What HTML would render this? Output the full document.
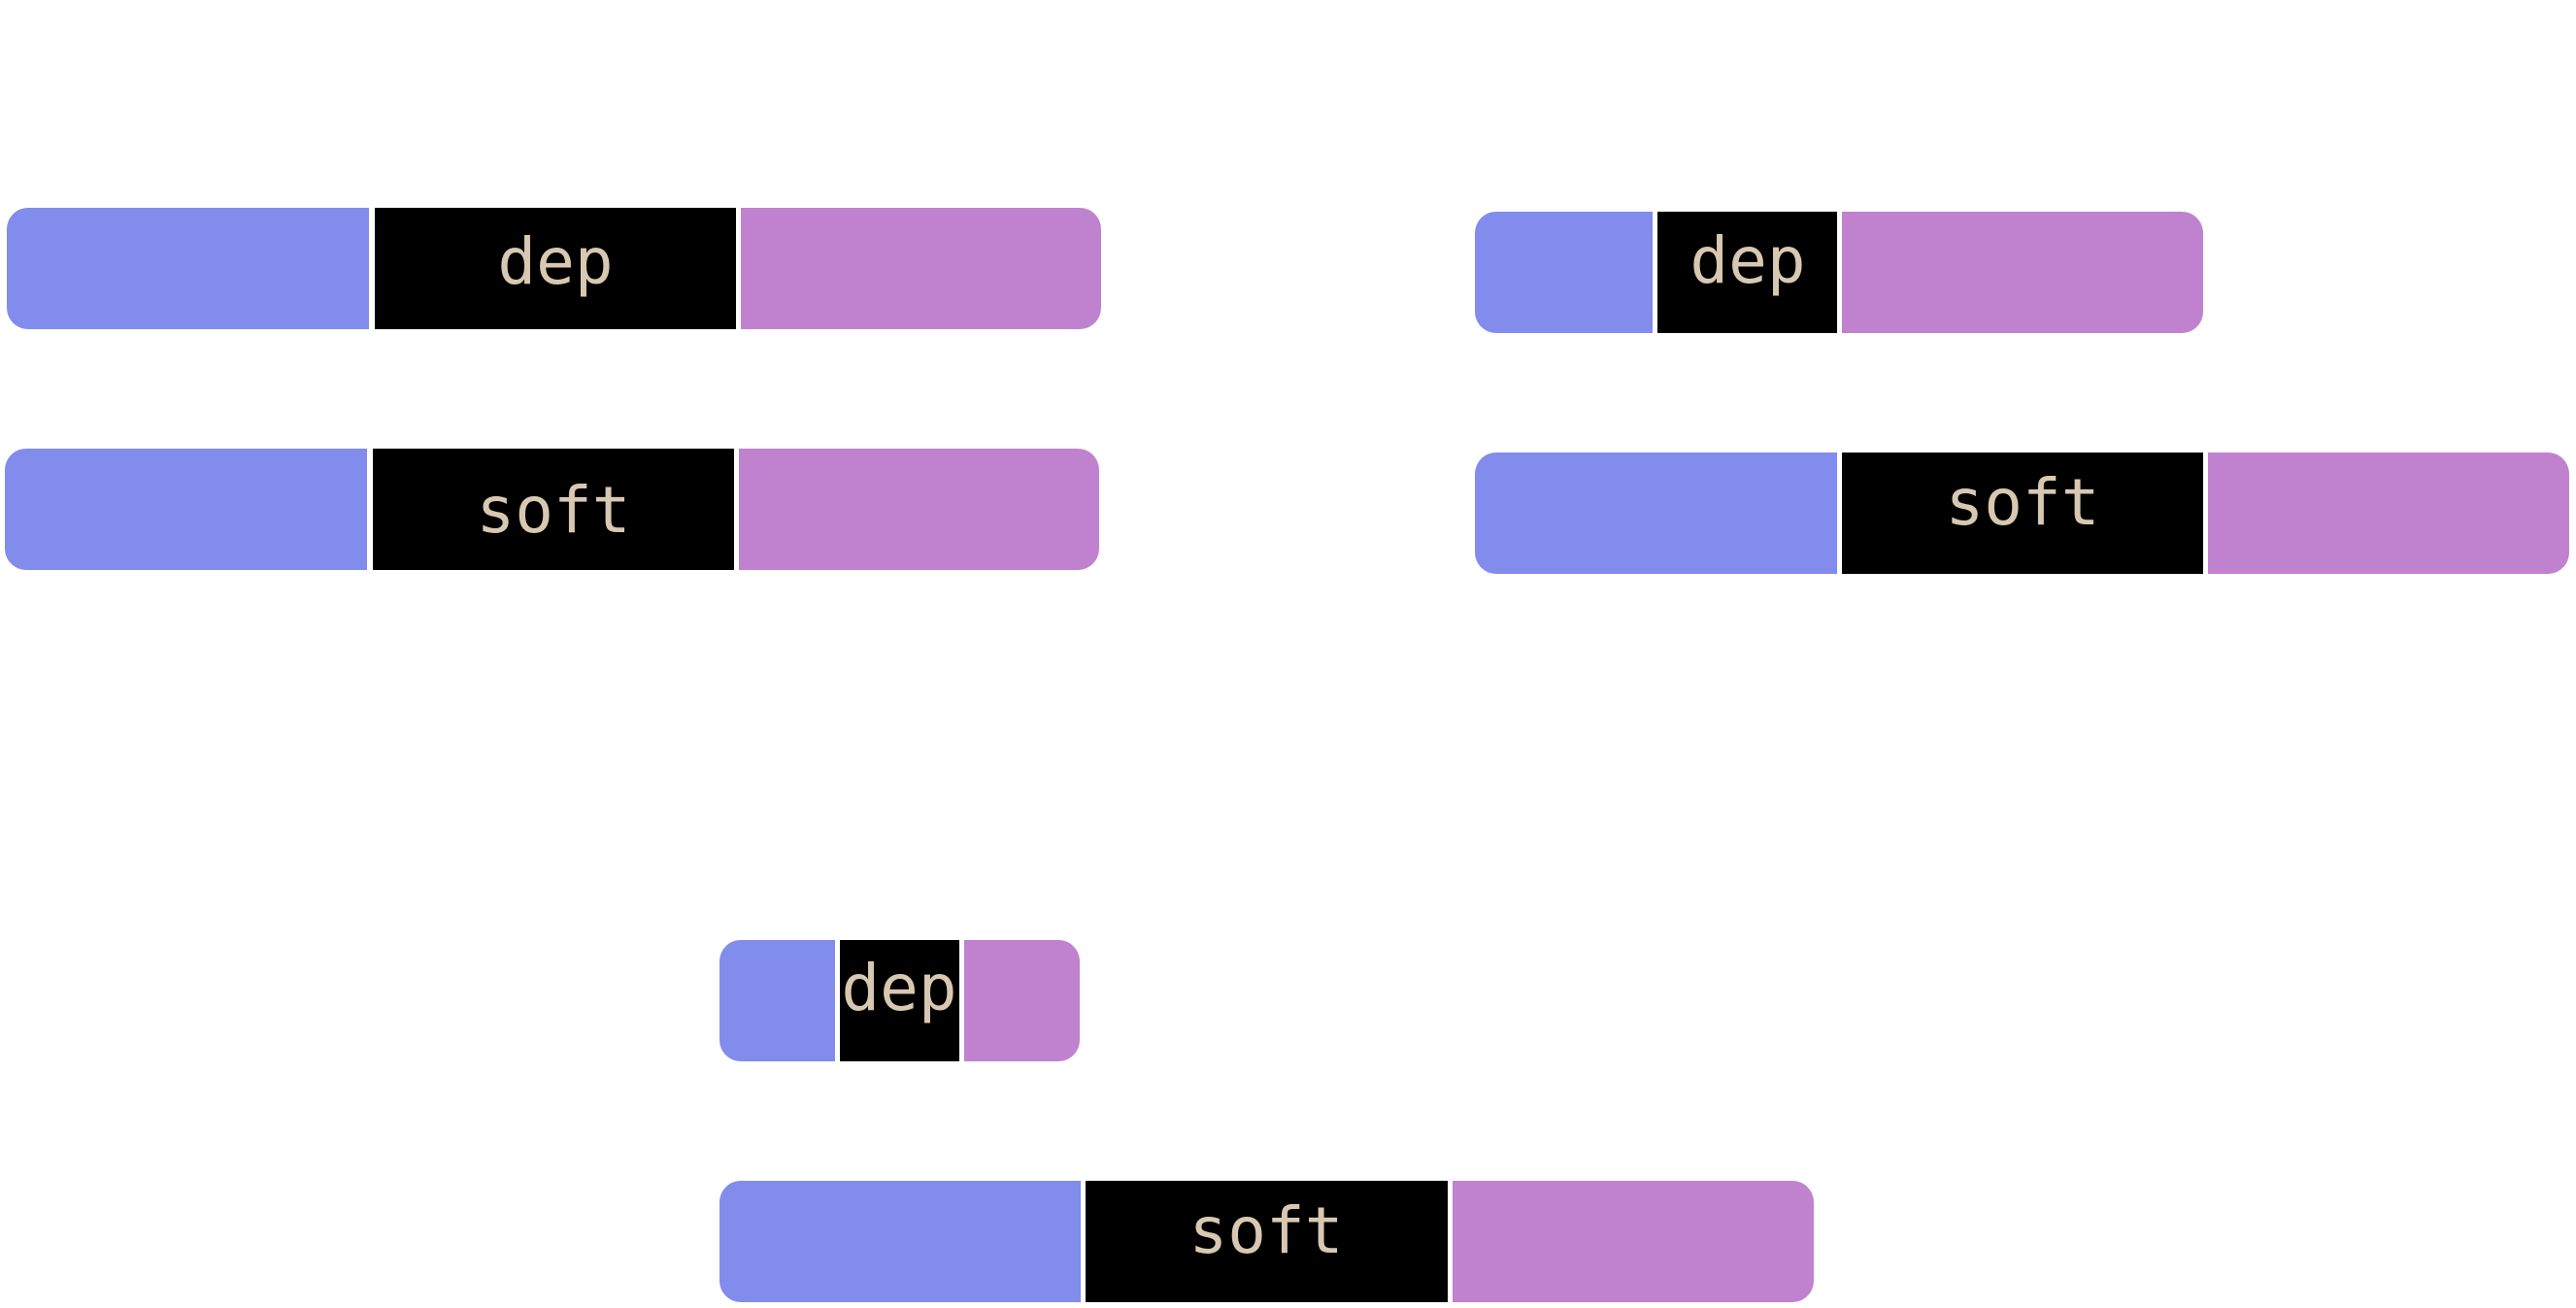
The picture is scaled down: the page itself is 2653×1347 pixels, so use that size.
<!DOCTYPE html>
<html><head><meta charset="utf-8"><style>
html,body{margin:0;padding:0;background:#fff;width:2653px;height:1347px;overflow:hidden}
</style></head><body>
<svg width="2653" height="1347" xmlns="http://www.w3.org/2000/svg" font-family="'DejaVu Sans Mono','Liberation Mono',monospace" font-size="66" fill="#d8c8b2">
<defs>
<clipPath id="c1"><rect x="7" y="214" width="1127" height="125" rx="22"/></clipPath>
<clipPath id="c2"><rect x="5" y="462" width="1127" height="125" rx="22"/></clipPath>
<clipPath id="c3"><rect x="1519" y="218" width="750" height="125" rx="22"/></clipPath>
<clipPath id="c4"><rect x="1519" y="466" width="1127" height="125" rx="22"/></clipPath>
<clipPath id="c5"><rect x="741" y="968" width="371" height="125" rx="22"/></clipPath>
<clipPath id="c6"><rect x="741" y="1216" width="1127" height="125" rx="22"/></clipPath>
</defs>
<g clip-path="url(#c1)">
<rect x="7" y="214" width="373" height="125" fill="#818cec"/>
<rect x="386" y="214" width="372" height="125" fill="#000"/>
<rect x="763" y="214" width="371" height="125" fill="#c082cf"/>
</g>
<text x="572" y="292" text-anchor="middle">dep</text>
<g clip-path="url(#c2)">
<rect x="5" y="462" width="373" height="125" fill="#818cec"/>
<rect x="384" y="462" width="372" height="125" fill="#000"/>
<rect x="761" y="462" width="371" height="125" fill="#c082cf"/>
</g>
<text x="570" y="548" text-anchor="middle">soft</text>
<g clip-path="url(#c3)">
<rect x="1519" y="218" width="183" height="125" fill="#818cec"/>
<rect x="1707" y="218" width="185" height="125" fill="#000"/>
<rect x="1897" y="218" width="372" height="125" fill="#c082cf"/>
</g>
<text x="1800" y="291" text-anchor="middle">dep</text>
<g clip-path="url(#c4)">
<rect x="1519" y="466" width="373" height="125" fill="#818cec"/>
<rect x="1897" y="466" width="372" height="125" fill="#000"/>
<rect x="2274" y="466" width="372" height="125" fill="#c082cf"/>
</g>
<text x="2083" y="540" text-anchor="middle">soft</text>
<g clip-path="url(#c5)">
<rect x="741" y="968" width="119" height="125" fill="#818cec"/>
<rect x="865" y="968" width="123" height="125" fill="#000"/>
<rect x="993" y="968" width="119" height="125" fill="#c082cf"/>
</g>
<text x="926" y="1040" text-anchor="middle">dep</text>
<g clip-path="url(#c6)">
<rect x="741" y="1216" width="372" height="125" fill="#818cec"/>
<rect x="1118" y="1216" width="373" height="125" fill="#000"/>
<rect x="1496" y="1216" width="372" height="125" fill="#c082cf"/>
</g>
<text x="1304" y="1290" text-anchor="middle">soft</text>
</svg>
</body></html>
